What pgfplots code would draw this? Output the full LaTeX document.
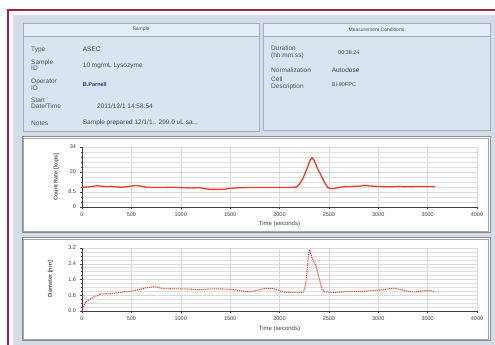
\documentclass[border=0pt]{standalone}
\usepackage{pgfplots}
\pgfplotsset{compat=1.18}
\usepackage{fontspec}
\setmainfont{Liberation Sans}
\definecolor{frame}{HTML}{A8203E}
\definecolor{panelbg}{HTML}{D3DDE9}
\definecolor{boxbg}{HTML}{DAE4EF}
\definecolor{boxhead}{HTML}{E4ECF5}
\definecolor{boxline}{HTML}{9FAEC0}
\definecolor{lbl}{HTML}{4A5464}
\definecolor{val}{HTML}{3A4862}
\definecolor{plotred}{HTML}{EE3B2C}
\definecolor{pborder}{HTML}{8C8C8C}

\pgfplotstableread{
t v
0 11.1
50 11.3
100 11.6
150 12.0
200 11.8
250 11.5
300 11.7
350 11.4
400 11.2
450 11.5
500 11.9
550 12.2
600 11.8
650 11.2
700 11.1
800 11.0
900 11.2
1000 11.0
1100 10.8
1200 10.9
1250 10.3
1300 10.0
1400 10.0
1450 10.1
1500 10.6
1600 10.9
1700 11.1
1800 11.1
1900 11.0
2000 11.1
2100 11.1
2170 11.3
2200 12.8
2240 16.5
2280 22.0
2310 26.5
2330 27.9
2350 26.5
2380 22.5
2420 18.0
2460 13.5
2490 11.0
2520 10.4
2560 10.5
2600 11.1
2650 11.5
2700 11.6
2800 11.8
2870 12.3
2900 12.0
3000 11.6
3100 11.5
3200 11.6
3300 11.5
3400 11.6
3500 11.6
3575 11.6
}\countrate

\pgfplotstableread{
t d
0 0.00
15 0.25
30 0.40
50 0.50
80 0.60
110 0.68
140 0.75
170 0.82
200 0.86
240 0.88
280 0.87
320 0.90
360 0.93
400 0.95
440 0.98
480 1.00
520 1.03
560 1.08
600 1.12
640 1.17
680 1.20
720 1.23
760 1.22
790 1.17
820 1.14
860 1.14
900 1.13
950 1.12
1000 1.12
1050 1.12
1100 1.11
1150 1.09
1200 1.08
1250 1.10
1300 1.12
1350 1.12
1400 1.12
1450 1.11
1500 1.10
1550 1.08
1600 1.03
1650 0.98
1700 0.98
1750 1.02
1800 1.08
1850 1.15
1900 1.14
1950 1.12
1985 1.08
2020 0.98
2060 0.95
2100 0.95
2150 0.94
2200 0.93
2240 0.96
2260 1.20
2275 1.80
2285 2.40
2295 2.90
2305 3.10
2315 2.95
2325 2.75
2340 2.60
2355 2.45
2370 2.30
2385 2.00
2400 1.70
2415 1.40
2430 1.10
2450 0.98
2500 0.95
2550 0.94
2600 0.96
2650 0.97
2700 1.00
2750 1.00
2800 0.98
2850 1.00
2900 1.02
2950 1.05
3000 1.06
3050 1.08
3100 1.12
3150 1.15
3200 1.12
3250 1.05
3300 1.00
3350 0.97
3400 0.97
3450 1.02
3500 1.04
3550 1.01
3575 1.00
}\diameter

\pgfplotsset{
  panelaxis/.style={
    scale only axis, width=395pt,
    xmin=0, xmax=4000, xtick={0,500,...,4000},
    axis lines*=left,
    axis line style={black!75, line width=0.6pt},
    tick align=outside,
    major tick length=2.5pt, minor tick length=1.5pt,
    tick style={black!75, line width=0.4pt},
    xmajorgrids, ymajorgrids, yminorgrids,
    major grid style={black!15, line width=0.4pt},
    minor grid style={black!13, line width=0.4pt},
    tick label style={font=\fontsize{5.5}{6}\selectfont, text=black!75},
    /pgf/number format/assume math mode=true,
    /pgf/number format/1000 sep={},
    xlabel={Time (seconds)},
    clip=false,
  }
}

\begin{document}
\begin{tikzpicture}[x=1pt,y=1pt]
\useasboundingbox (0,0) rectangle (495,345);
\fill[white] (0,0) rectangle (495,345);
\fill[panelbg] (13,0) rectangle (495,330);
\draw[frame, line width=1.2pt] (8,0) -- (8,335) -- (495,335);

% Sample box
\fill[boxbg] (23,214) rectangle (259,322);
\fill[boxhead] (23,309) rectangle (259,322);
\draw[boxline, line width=0.6pt] (23,214) rectangle (259,322);
\draw[boxline, line width=0.4pt] (23,309) -- (259,309);
\node[font=\fontsize{5}{6}\selectfont, text=lbl] at (141,315.5) {Sample};
\begin{scope}[every node/.style={font=\fontsize{6.5}{6.5}\selectfont, text=lbl, anchor=west, inner sep=0pt, align=left}]
\node at (31,295.3) {Type};
\node at (31,280) {Sample\\ID};
\node at (31,260.3) {Operator\\ID};
\node at (31,241.5) {Start\\Date/Time};
\node at (31,222) {Notes};
\node[text=val] at (82.7,295.3) {ASEC};
\node[text=val] at (82.7,279.3) {10 mg/mL Lysozyme};
\node[text=val!70!blue, font=\fontsize{5.5}{6}\selectfont\bfseries] at (82.7,260.3) {B.Parnell};
\node[text=val] at (97,238.7) {2011/12/1 14:58:54};
\node[text=val] at (82.7,222) {Sample prepared 12/1/1.. 299.0 uL sa...};
\end{scope}

% Measurement box
\fill[boxbg] (263,215) rectangle (490,322);
\fill[boxhead] (263,309) rectangle (490,322);
\draw[boxline, line width=0.6pt] (263,215) rectangle (490,322);
\draw[boxline, line width=0.4pt] (263,309) -- (490,309);
\node[font=\fontsize{5}{6}\selectfont, text=lbl] at (376.5,315.5) {Measurement Conditions};
\begin{scope}[every node/.style={font=\fontsize{6.5}{6.5}\selectfont, text=lbl, anchor=west, inner sep=0pt, align=left}]
\node at (271,292.5) {Duration\\(hh:mm:ss)};
\node at (271,275.3) {Normalization};
\node at (271,261.5) {Cell\\Description};
\node[text=val, font=\fontsize{5.5}{6}\selectfont] at (338,292.7) {00:38:24};
\node[text=val] at (331.7,275.3) {Autodose};
\node[text=val, font=\fontsize{5.5}{6}\selectfont] at (331.7,260.7) {BI-90FPC};
\end{scope}

% Plot panels
\fill[white] (22,112) rectangle (490,208);
\draw[pborder, line width=1pt] (22,112) rectangle (490,208);
\draw[black!35, line width=0.4pt] (23.5,113.5) rectangle (488.5,206.5);
\fill[white] (22,4) rectangle (490,107);
\draw[pborder, line width=1pt] (22,4) rectangle (490,107);
\draw[black!35, line width=0.4pt] (23.5,5.5) rectangle (488.5,105.5);

\begin{axis}[panelaxis,
  at={(82pt,138pt)}, anchor=south west, height=60pt,
  ymin=0, ymax=34, ytick={0,8.5,20,34},
  minor ytick={0,2.8333,...,34},
  ylabel={Count Rate [kcps]},
  every axis y label/.style={at={(axis description cs:-0.065,0.5)}, rotate=90, anchor=center, font=\fontsize{5.5}{6}\selectfont\bfseries, text=black!70},
  every axis x label/.style={at={(axis description cs:0.5,0)}, yshift=-17pt, anchor=center, font=\fontsize{6}{7}\selectfont, text=black!75},
]
\addplot[plotred, line width=1.3pt] table[x=t, y=v] {\countrate};
\end{axis}

\begin{axis}[panelaxis,
  at={(82pt,34pt)}, anchor=south west, height=63pt,
  ymin=0, ymax=3.2, ytick={0,0.8,...,3.2},
  yticklabel style={/pgf/number format/.cd, fixed, fixed zerofill, precision=1},
  minor y tick num=3,
  ylabel={Diameter [nm]},
  every axis y label/.style={at={(axis description cs:-0.08,0.5)}, rotate=90, anchor=center, font=\fontsize{5.5}{6}\selectfont\bfseries, text=black!70},
  every axis x label/.style={at={(axis description cs:0.5,0)}, yshift=-18pt, anchor=center, font=\fontsize{6}{7}\selectfont, text=black!75},
]
\addplot[plotred, line width=1.1pt, densely dotted] table[x=t, y=d] {\diameter};
\end{axis}
\end{tikzpicture}
\end{document}
